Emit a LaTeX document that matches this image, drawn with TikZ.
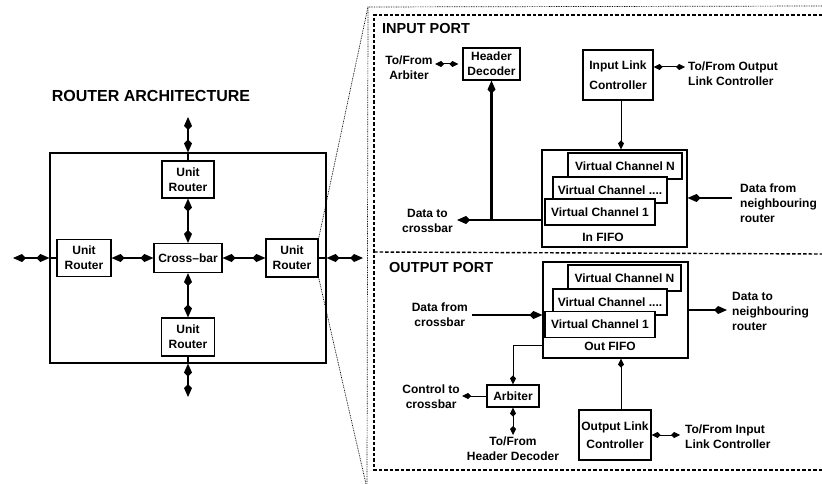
\documentclass[tikz,border=0pt]{standalone}
\usepackage{fontspec}
\setmainfont{Liberation Sans}
\usetikzlibrary{arrows.meta}
\begin{document}
\begin{tikzpicture}[x=1pt,y=-1pt,
  font=\fontsize{12}{15}\selectfont\bfseries,
  box/.style={draw, line width=1.2pt, inner sep=0pt, align=center, fill=white},
  lbl/.style={align=center, inner sep=0pt},
  lbll/.style={align=left, inner sep=0pt},
  thk/.style={line width=2.4pt},
  thn/.style={line width=1pt},
  thkbi/.style={line width=2.4pt, {Kite[length=13pt,width=8pt,inset=4pt]}-{Kite[length=13pt,width=8pt,inset=4pt]}},
  thkto/.style={line width=2.4pt, -{Kite[length=13pt,width=8pt,inset=4pt]}},
  thnbi/.style={line width=1pt, {Kite[length=9pt,width=6pt,inset=3pt]}-{Kite[length=9pt,width=6pt,inset=3pt]}},
  thnto/.style={line width=1pt, -{Kite[length=9pt,width=6pt,inset=3pt]}},
  dotline/.style={line width=0.7pt, dash pattern=on 0.8pt off 0.9pt},
  dashline/.style={line width=1.4pt, dash pattern=on 3.5pt off 2pt}]
\useasboundingbox (0,0) rectangle (822,484);

% ---------- left: router architecture ----------
\node[lbl, font=\fontsize{16}{18}\selectfont\bfseries] (title) at (151,96) {ROUTER ARCHITECTURE};
\node[box, fill=none, minimum width=276, minimum height=210] (outer) at (188,258) {};
\node[box, minimum width=52, minimum height=37] (urT) at (188,179.5) {Unit\\Router};
\node[box, minimum width=54, minimum height=37] (urL) at (84,258) {Unit\\Router};
\node[box, minimum width=68, minimum height=29] (cb) at (188,258) {Cross–bar};
\node[box, minimum width=52, minimum height=38] (urR) at (292,258) {Unit\\Router};
\node[box, minimum width=53, minimum height=38] (urB) at (188,337) {Unit\\Router};

\coordinate (eT) at (188,117);
\coordinate (eB) at (188,397);
\coordinate (eL) at (13,258);
\coordinate (eR) at (363,258);

\draw[thkbi] (eT) -- (outer.north);
\draw[thk] (outer.north) -- (urT.north);
\draw[thkbi] (urT.south) -- (cb.north);
\draw[thkbi] (cb.south) -- (urB.north);
\draw[thk] (urB.south) -- (outer.south);
\draw[thkbi] (outer.south) -- (eB);
\draw[thkbi] (eL) -- (outer.west);
\draw[thk] (outer.west) -- (urL.west);
\draw[thkbi] (urL.east) -- (cb.west);
\draw[thkbi] (cb.east) -- (urR.west);
\draw[thk] (urR.east) -- (outer.east);
\draw[thkbi] (outer.east) -- (eR);

% ---------- projection ----------
\coordinate (pT) at (368,7);
\coordinate (pB) at (366,484);
\coordinate (pR) at (822,6);
\draw[dotline] (urR.north east) -- (pT);
\draw[dotline] (urR.south east) -- (pB);
\draw[dotline] (pR) -- (pT) -- (367,484);

% ---------- panel ----------
\draw[dashline] (822,15) -- (374,15) -- (374,470) -- (822,470);
\draw[dashline] (374,252) -- (822,254);

% ---------- input port ----------
\node[lbll, anchor=west, font=\fontsize{14.5}{16}\selectfont\bfseries] (inTitle) at (382,29) {INPUT PORT};
\node[box, minimum width=57, minimum height=32] (hd) at (491.5,64) {Header\\Decoder};
\node[lbl] (lArb) at (409,68) {To/From\\Arbiter};
\coordinate (aArb) at (435,64);
\draw[thnbi, shorten >=4pt] (aArb) -- (hd.west);

\node[box, minimum width=70, minimum height=50, font=\fontsize{12}{20}\selectfont\bfseries] (ilc) at (618,75) {Input Link\\Controller};
\node[lbll, anchor=west] (lOut) at (688,74) {To/From Output\\Link Controller};
\coordinate (aOut) at (685,67);
\draw[thnbi] (ilc.east |- aOut) -- (aOut);

\node[box, minimum width=145, minimum height=97] (fifoIn) at (614.5,198.5) {};
\node[box, minimum width=114, minimum height=26] (vcN) at (625,166) {Virtual Channel N};
\node[box, minimum width=114, minimum height=26] (vcD) at (610,190) {Virtual Channel ....};
\node[box, minimum width=110, minimum height=26] (vc1) at (600,212) {Virtual Channel 1};
\node[lbl] (inF) at (603,237) {In FIFO};

\draw[thnto] ([xshift=3pt]ilc.south) -- ([xshift=3pt]ilc.south |- fifoIn.north);

\coordinate (dtc) at (457,220);
\node[lbl, anchor=east] (lDtc) at (453,221) {Data to\\crossbar};
\draw[thkto] (fifoIn.west |- dtc) -- (dtc);
\draw[thkto] (hd.south |- dtc) -- (hd.south);

\coordinate (dfn) at (732,198);
\node[lbll, anchor=west] (lDfn) at (740,203) {Data from\\neighbouring\\router};
\draw[thkto] (dfn) -- (dfn -| fifoIn.east);

% ---------- output port ----------
\node[lbll, anchor=west, font=\fontsize{14.5}{16}\selectfont\bfseries] (outTitle) at (389,268) {OUTPUT PORT};
\node[box, minimum width=145, minimum height=96] (fifoOut) at (615.5,310) {};
\node[box, minimum width=113, minimum height=26] (vcN2) at (624.5,278) {Virtual Channel N};
\node[box, minimum width=114, minimum height=26] (vcD2) at (610,302) {Virtual Channel ....};
\node[box, minimum width=110, minimum height=26] (vc12) at (600,324.5) {Virtual Channel 1};
\node[lbl] (outF) at (610,346) {Out FIFO};

\coordinate (dfc) at (472,315);
\node[lbl, anchor=east] (lDfc) at (468,315) {Data from\\crossbar};
\draw[thkto] (dfc) -- (dfc -| fifoOut.west);

\coordinate (dtn) at (727,310);
\node[lbll, anchor=west] (lDtn) at (732,311) {Data to\\neighbouring\\router};
\draw[thkto] (dtn -| fifoOut.east) -- (dtn);

\node[box, minimum width=52, minimum height=22] (arb) at (513,396) {Arbiter};
\coordinate (kArb) at (513,345);
\draw[thnto] (kArb -| fifoOut.west) -- (kArb) -- (arb.north);

\coordinate (ctc) at (462,396);
\node[lbl, anchor=east] (lCtc) at (460,397) {Control to\\crossbar};
\draw[thnto] (arb.west) -- (ctc);

\coordinate (thd) at (513,435);
\node[lbl, anchor=north] (lThd) at (513,437) {To/From\\Header Decoder};
\draw[thnbi] (arb.south) -- (thd);

\node[box, minimum width=72, minimum height=50, font=\fontsize{12}{18}\selectfont\bfseries] (olc) at (615,435) {Output Link\\Controller};
\draw[thnto] ([xshift=6pt]olc.north) -- ([xshift=6pt]olc.north |- fifoOut.south);

\coordinate (tin) at (680,435);
\node[lbll, anchor=west] (lTin) at (685,437) {To/From Input\\Link Controller};
\draw[thnbi] (olc.east) -- (tin);
\end{tikzpicture}
\end{document}
